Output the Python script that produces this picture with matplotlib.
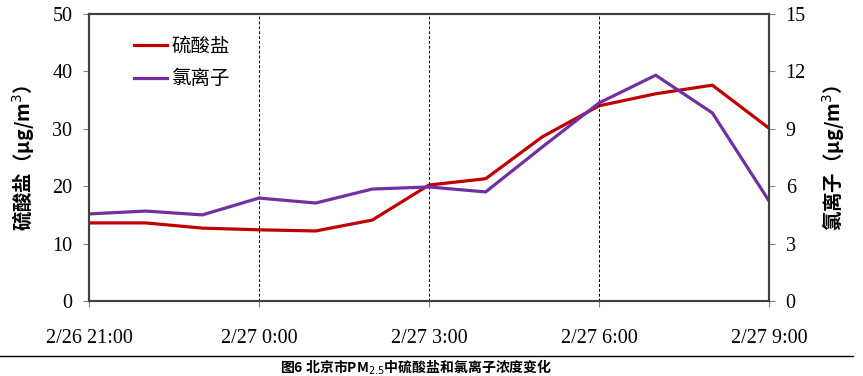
import matplotlib
matplotlib.use("Agg")
import matplotlib.pyplot as plt
from matplotlib.lines import Line2D

plt.rcParams['font.family'] = ['Liberation Serif', 'Noto Sans CJK SC', 'DejaVu Sans']

hours = [0, 1, 2, 3, 4, 5, 6, 7, 8, 9, 10, 11, 12]
sulfate = [13.6, 13.6, 12.7, 12.4, 12.2, 14.1, 20.2, 21.3, 28.6, 34.0, 36.1, 37.6, 30.1]
chloride = [4.55, 4.70, 4.50, 5.38, 5.12, 5.85, 5.96, 5.70, 8.05, 10.35, 11.8, 9.83, 5.23]
tick_pos = [0, 3, 6, 9, 12]
tick_labels = ['2/26 21:00', '2/27 0:00', '2/27 3:00', '2/27 6:00', '2/27 9:00']
guide_pos = [3, 6, 9]

cjk = ['Noto Sans CJK SC', 'DejaVu Sans']
red = '#C00000'
purple = '#7030A0'

fig = plt.figure(figsize=(8.63, 3.76), dpi=100)
ax = fig.add_axes([0.1031, 0.1995, 0.788, 0.7633])
ax2 = ax.twinx()

l1, = ax.plot(hours, sulfate, color=red, lw=2.3, label='硫酸盐')
l2, = ax2.plot(hours, chloride, color=purple, lw=2.3, label='氯离子')

for x in guide_pos:
    ax.axvline(x, color='black', lw=0.7, ls=(0, (3, 2)))

ax.set_xlim(0, 12)
ax.set_ylim(0, 50)
ax2.set_ylim(0, 15)
ax.set_yticks(range(0, 51, 10))
ax2.set_yticks(range(0, 16, 3))
ax.set_xticks(tick_pos)
ax.set_xticklabels(tick_labels)

for a in (ax, ax2):
    for s in a.spines.values():
        s.set_color('#404040')
        s.set_linewidth(1.5)
    a.tick_params(axis='y', labelsize=14.5, length=4, color='#808080', pad=8)
ax.tick_params(axis='x', labelsize=14.5, length=4, color='#808080', pad=16)

ax.set_ylabel('硫酸盐（μg/m$^3$）', family=['Noto Sans CJK SC', 'Liberation Serif'],
              fontsize=14, fontweight='bold', labelpad=12)
ax2.set_ylabel('氯离子（μg/m$^3$）', family=['Noto Sans CJK SC', 'Liberation Serif'],
               fontsize=14, fontweight='bold', labelpad=10)

leg = ax.legend(handles=[l1, l2], loc='upper left', bbox_to_anchor=(0.04, 0.985),
                frameon=False, prop={'family': cjk, 'size': 14},
                handlelength=1.7, handletextpad=0.25, labelspacing=0.6)

fig.add_artist(Line2D([0.0, 0.988], [0.0532, 0.0532], color='black', lw=1.0,
                      transform=fig.transFigure))
fig.text(0.482, 0.022, '图6 北京市PM$_{2.5}$中硫酸盐和氯离子浓度变化', ha='center', va='center',
         family=cjk, fontsize=10, fontweight='bold')

fig.savefig('out.png', dpi=100)
